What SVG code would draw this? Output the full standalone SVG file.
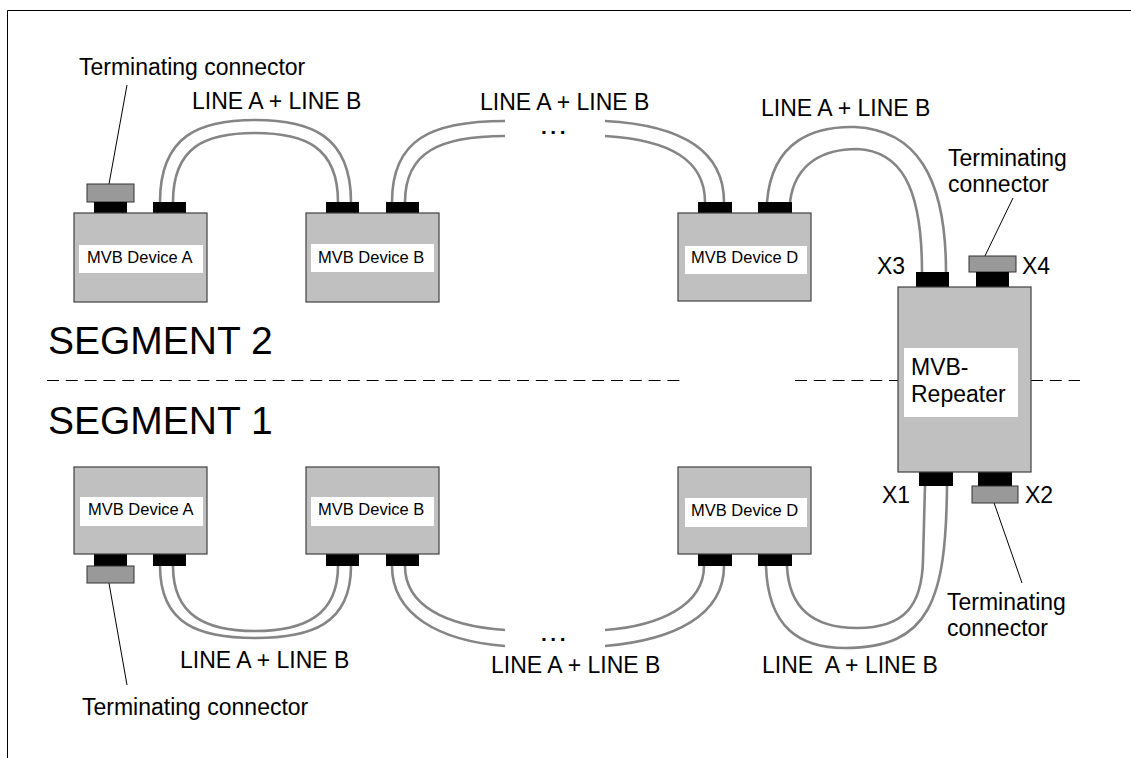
<svg xmlns="http://www.w3.org/2000/svg" width="1131" height="758" viewBox="0 0 1131 758">
<style>
.dev{fill:#c0c0c0;stroke:#404040;stroke-width:1.2}
.lbl{fill:#ffffff}
.con{fill:#000000}
.term{fill:#999999;stroke:#333333;stroke-width:1}
.cable{fill:none;stroke:#858585;stroke-width:2.6}
.lead{fill:none;stroke:#000000;stroke-width:1}
.dash{fill:none;stroke:#000000;stroke-width:1;stroke-dasharray:12 6.8}
text{font-family:"Liberation Sans",Arial,sans-serif;fill:#000000}
.t23{font-size:23px}
.t16{font-size:16.5px}
.seg{font-size:39px}
.dots{font-size:21px;font-weight:bold;letter-spacing:3.5px}
</style>
<rect x="0" y="0" width="1131" height="758" fill="#ffffff"/>
<g id="frame">
<path d="M7.5,758 L7.5,10.5 L1131,10.5" fill="none" stroke="#000000" stroke-width="1"/>
</g>
<g id="segments">
<line class="dash" x1="47" y1="380.5" x2="681" y2="380.5"/>
<line class="dash" x1="795" y1="380.5" x2="898" y2="380.5"/>
<line class="dash" x1="1031" y1="380.5" x2="1080" y2="380.5"/>
<text class="seg" x="48" y="354">SEGMENT 2</text>
<text class="seg" x="48" y="434">SEGMENT 1</text>
</g>
<g id="connectors">
<path class="cable" d="M160,202 C160,135 200,120 255,120 C310,120 351,135 351,202"/>
<path class="cable" d="M173,202 C173,147 205,133 255,133 C305,133 338,147 338,202"/>
<path class="cable" d="M392,202 C392,140 430,121 505,121"/>
<path class="cable" d="M405,202 C405,152 440,136 505,136"/>
<path class="cable" d="M605,121 C680,125 724,150 724,202"/>
<path class="cable" d="M605,136 C670,140 705,160 705,202"/>
<path class="cable" d="M767,202 C772,140 815,126 855,127 C915,130 946,175 946,272"/>
<path class="cable" d="M790,202 C795,162 825,149 857,149 C900,151 922,185 922,272"/>
<path class="cable" d="M160,566 C160,625 200,638 255,638 C310,638 351,625 351,566"/>
<path class="cable" d="M173,566 C173,615 205,631 255,631 C305,631 338,615 338,566"/>
<path class="cable" d="M392,566 C392,615 440,641 505,646"/>
<path class="cable" d="M405,566 C405,605 445,626 505,630"/>
<path class="cable" d="M605,646 C675,640 724,615 724,566"/>
<path class="cable" d="M605,630 C660,626 704,605 704,566"/>
<path class="cable" d="M766,566 C768,628 800,648 845,648 C930,648 946,600 947,486"/>
<path class="cable" d="M787,566 C789,610 815,628 857,628 C905,628 922,605 923,560 L925,486"/>
<line class="lead" x1="127" y1="85" x2="107" y2="195"/>
<line class="lead" x1="107" y1="572" x2="127" y2="685"/>
<line class="lead" x1="1013" y1="198" x2="983" y2="260"/>
<line class="lead" x1="992" y1="497" x2="1022" y2="583"/>
</g>
<g id="labels">
<text class="t23" x="79" y="75">Terminating connector</text>
<text class="t23" x="192" y="109">LINE A + LINE B</text>
<text class="t23" x="480" y="110">LINE A + LINE B</text>
<text class="dots" x="541" y="134">...</text>
<text class="t23" x="761" y="116">LINE A + LINE B</text>
<text class="t23" x="948" y="166">Terminating</text>
<text class="t23" x="948" y="192">connector</text>
<text class="t23" x="180" y="668">LINE A + LINE B</text>
<text class="t23" x="491" y="673">LINE A + LINE B</text>
<text class="dots" x="541" y="641">...</text>
<text class="t23" x="762" y="673" xml:space="preserve">LINE  A + LINE B</text>
<text class="t23" x="82" y="715">Terminating connector</text>
<text class="t23" x="947" y="610">Terminating</text>
<text class="t23" x="947" y="636">connector</text>
</g>
<g id="dev-top-a">
<rect class="term" x="87" y="184" width="47" height="18"/>
<rect class="con" x="94" y="202" width="33" height="12"/>
<rect class="con" x="153" y="202" width="33" height="12"/>
<rect class="dev" x="74" y="213" width="133" height="89"/>
<rect class="lbl" x="79" y="245" width="124" height="28"/>
<text class="t16" x="87" y="263">MVB Device A</text>
</g>
<g id="dev-top-b">
<rect class="con" x="326" y="202" width="33" height="12"/>
<rect class="con" x="386" y="202" width="33" height="12"/>
<rect class="dev" x="306" y="213" width="133" height="89"/>
<rect class="lbl" x="311" y="244" width="123" height="28"/>
<text class="t16" x="318" y="263">MVB Device B</text>
</g>
<g id="dev-top-d">
<rect class="con" x="698" y="202" width="34" height="12"/>
<rect class="con" x="758" y="202" width="34" height="12"/>
<rect class="dev" x="678" y="213" width="133" height="88"/>
<rect class="lbl" x="685" y="246" width="122" height="28"/>
<text class="t16" x="691" y="263">MVB Device D</text>
</g>
<g id="dev-bot-a">
<rect class="con" x="94" y="554" width="33" height="12"/>
<rect class="term" x="87" y="566" width="47" height="17"/>
<rect class="con" x="153" y="554" width="33" height="12"/>
<rect class="dev" x="74" y="467" width="133" height="87"/>
<rect class="lbl" x="80" y="497" width="123" height="29"/>
<text class="t16" x="88" y="515">MVB Device A</text>
</g>
<g id="dev-bot-b">
<rect class="con" x="326" y="554" width="33" height="12"/>
<rect class="con" x="386" y="554" width="33" height="12"/>
<rect class="dev" x="306" y="467" width="133" height="87"/>
<rect class="lbl" x="311" y="497" width="123" height="29"/>
<text class="t16" x="318" y="515">MVB Device B</text>
</g>
<g id="dev-bot-d">
<rect class="con" x="698" y="554" width="34" height="12"/>
<rect class="con" x="758" y="554" width="34" height="12"/>
<rect class="dev" x="678" y="467" width="133" height="87"/>
<rect class="lbl" x="685" y="498" width="122" height="29"/>
<text class="t16" x="691" y="516">MVB Device D</text>
</g>
<g id="repeater">
<rect class="con" x="916" y="272" width="33" height="15"/>
<rect class="term" x="969" y="256" width="47" height="16"/>
<rect class="con" x="976" y="272" width="33" height="15"/>
<rect class="con" x="919" y="472" width="34" height="14"/>
<rect class="con" x="978" y="472" width="34" height="14"/>
<rect class="term" x="972" y="486" width="46" height="17"/>
<rect class="dev" x="898" y="287" width="133" height="185"/>
<rect class="lbl" x="904" y="348" width="114" height="69"/>
<text class="t23" x="911" y="375">MVB-</text>
<text class="t23" x="911" y="402">Repeater</text>
<text class="t23" x="877" y="274">X3</text>
<text class="t23" x="1022" y="274">X4</text>
<text class="t23" x="882" y="503">X1</text>
<text class="t23" x="1025" y="503">X2</text>
</g>
</svg>
